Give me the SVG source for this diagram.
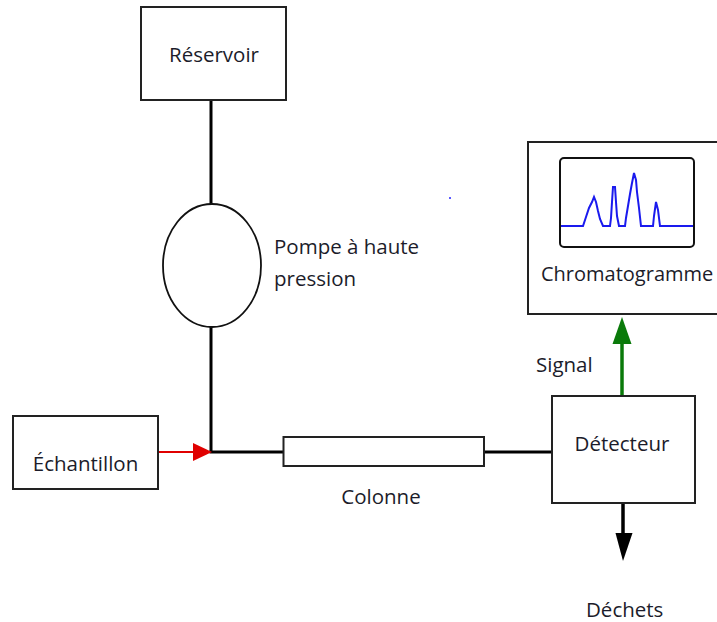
<svg xmlns="http://www.w3.org/2000/svg" width="717" height="622" viewBox="0 0 717 622">
<style>
.box{fill:#fff;stroke:#222;stroke-width:2}
.pipe{fill:none;stroke:#000;stroke-width:3}
.lbl{font-family:"Open Sans","Noto Sans",sans-serif;font-size:20.5px;fill:#1c1c2a}
.mid{text-anchor:middle}
</style>
<rect width="717" height="622" fill="#fff"/>
<g id="connectors">
<line class="pipe" x1="211" y1="100" x2="211" y2="205"/>
<line class="pipe" x1="211" y1="327" x2="211" y2="453"/>
<line class="pipe" x1="209.5" y1="452" x2="284" y2="452"/>
<line class="pipe" x1="484" y1="452" x2="552" y2="452"/>
<line x1="158" y1="452" x2="196" y2="452" stroke="#e00000" stroke-width="2"/>
<polygon points="193,443 212,452 193,461" fill="#e00000"/>
<line x1="622" y1="396" x2="622" y2="340" stroke="#0a7a0a" stroke-width="3.5"/>
<polygon points="612.5,344 622,317 631.5,344" fill="#0a7a0a"/>
<line x1="623" y1="503" x2="623" y2="537" stroke="#000" stroke-width="3.5"/>
<polygon points="615.5,533 623,561 632.5,533" fill="#000"/>
</g>
<g id="reservoir">
<rect class="box" x="141" y="7" width="145" height="93"/>
<text class="lbl mid" x="214" y="62">Réservoir</text>
</g>
<g id="pompe">
<ellipse cx="212" cy="265.5" rx="49" ry="61.5" fill="#fff" stroke="#111" stroke-width="1.8"/>
<text class="lbl" x="274" y="254">Pompe à haute</text>
<text class="lbl" x="274" y="286">pression</text>
</g>
<g id="echantillon">
<rect class="box" x="13" y="416" width="145" height="73"/>
<text class="lbl mid" x="85.5" y="471">Échantillon</text>
</g>
<g id="colonne">
<rect class="box" x="283.5" y="437" width="200.5" height="29"/>
<text class="lbl mid" x="381" y="504">Colonne</text>
</g>
<g id="detecteur">
<rect class="box" x="552" y="396" width="143" height="107"/>
<text class="lbl mid" x="622" y="451">Détecteur</text>
</g>
<g id="signal">
<text class="lbl" x="536" y="372">Signal</text>
</g>
<g id="chromatogramme">
<rect class="box" x="528" y="142" width="195" height="172"/>
<rect x="560" y="158" width="134" height="89" rx="4" fill="#fff" stroke="#111" stroke-width="2"/>
<polyline fill="none" stroke="#1a1aee" stroke-width="2" points="561,226 583,226 586,217 589,208 592,202 594,197 596,202 598,211 600,219 603,226 610,226 611,218 612,202 613,187 615,187 616,202 617,216 619,226 625,226 626,218 628,206 630,194 632,183 634,173 636,180 637,192 639,208 641,226 653,226 654,216 656,202 658,210 660,226 693,226"/>
<text x="541" y="281" style="font-family:'Open Sans','Noto Sans',sans-serif;font-size:20px;fill:#1c1c2a">Chromatogramme</text>
</g>
<g id="dechets">
<text class="lbl" x="586" y="617">Déchets</text>
</g>
<rect x="449" y="197" width="2" height="2" fill="#5a5aff"/>
</svg>
